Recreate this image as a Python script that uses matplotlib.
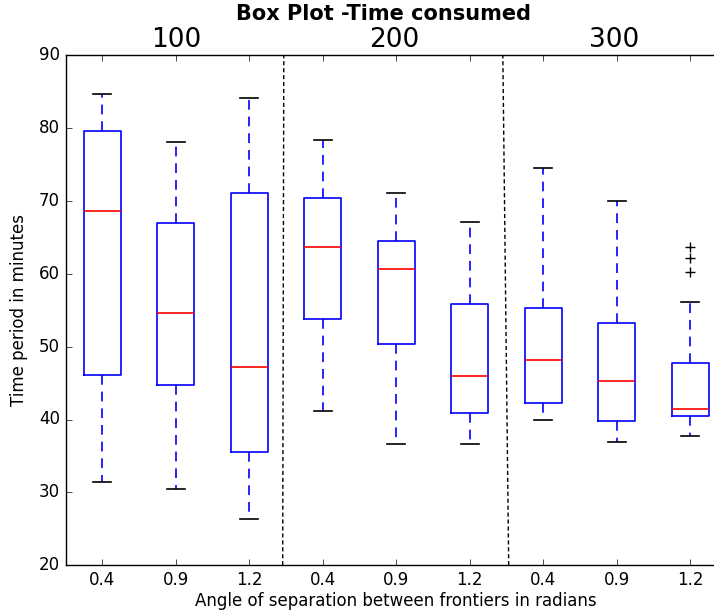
import matplotlib
matplotlib.use("Agg")
import matplotlib.pyplot as plt

plt.style.use("classic")
plt.rcParams["font.family"] = ["DejaVu Sans"]
plt.rcParams["font.size"] = 12

# box statistics (minutes)
labels = ["0.4", "0.9", "1.2"] * 3
groups = ["100", "200", "300"]
whislo = [31.4, 30.4, 26.3, 41.1, 36.7, 36.7, 39.9, 36.9, 37.7]
q1 = [46.1, 44.8, 35.5, 53.8, 50.4, 40.9, 42.2, 39.8, 40.5]
med = [68.6, 54.6, 47.2, 63.6, 60.7, 45.9, 48.2, 45.3, 41.5]
q3 = [79.6, 67.0, 71.1, 70.4, 64.5, 55.8, 55.3, 53.3, 47.8]
whishi = [84.7, 78.1, 84.1, 78.4, 71.1, 67.1, 74.5, 70.0, 56.1]
fliers = [[], [], [], [], [], [], [], [], [60.2, 62.2, 63.6]]

stats = []
for i in range(len(labels)):
    stats.append({"label": labels[i], "whislo": whislo[i], "q1": q1[i],
                  "med": med[i], "q3": q3[i], "whishi": whishi[i],
                  "fliers": fliers[i]})

fig = plt.figure(figsize=(7.14, 6.15), dpi=100, facecolor="white")
ax = fig.add_axes([65.5 / 714, 49.7 / 615, 661.5 / 714, 510.3 / 615])
ax.set_facecolor("white")

ax.bxp(stats, positions=range(1, 10), widths=0.5,
       boxprops=dict(color="b", linewidth=1.2),
       whiskerprops=dict(color="b", linestyle=(0, (7, 5)), linewidth=1.2),
       capprops=dict(color="k", linewidth=1.2),
       medianprops=dict(color="r", linewidth=1.2),
       flierprops=dict(marker="+", markeredgecolor="k", markersize=7,
                       linestyle="none"))

# group separators (slightly slanted as in the original)
ax.plot([3.455, 3.47], [20, 90], color="k", linestyle=(0, (3, 2)), linewidth=1)
ax.plot([6.53, 6.45], [20, 90], color="k", linestyle=(0, (3, 2)), linewidth=1)

ax.set_xlim(0.5, 9.5)
ax.set_ylim(20, 90)
ax.set_xticks(range(1, 10))
ax.set_xticklabels(labels)
ax.tick_params(direction="in", top=True, right=True)

for x, g in zip([2.0, 4.97, 7.96], groups):
    ax.text(x, 91.1, g, ha="center", va="baseline", fontsize=19)

fig.text(383 / 714, 1 - 20 / 615, "Box Plot -Time consumed", ha="center",
         va="baseline", fontsize=15, fontweight="bold")

ax.set_xlabel("Angle of separation between frontiers in radians", labelpad=2)
ax.set_ylabel("Time period in minutes", labelpad=8)

fig.savefig("out.png", dpi=100, facecolor="white")
